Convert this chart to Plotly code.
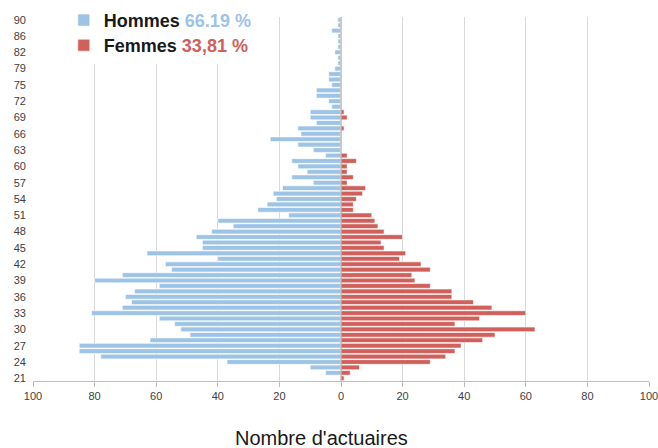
import plotly.graph_objects as go

# Age categories (bottom to top); a few high ages are absent in the source
ages = [str(a) for a in range(21, 70)] + ["70", "71", "72", "73", "74", "75", "76", "78", "79",
                                          "80", "81", "82", "83", "85", "86", "87", "89", "90"]

hommes = [0, 5, 10, 37, 78, 85, 85, 62, 49, 52,
          54, 59, 81, 71, 68, 70, 67, 59, 80, 71,
          55, 57, 40, 63, 45, 45, 47, 42, 35, 40,
          17, 27, 24, 21, 22, 19, 9, 16, 11, 14,
          16, 5, 9, 14, 23, 13, 14, 8, 10,
          10, 3, 4, 8, 8, 3, 4, 4, 2, 1, 1, 2, 1, 1, 1, 3, 1, 1]

femmes = [1, 3, 6, 29, 34, 37, 39, 46, 50, 63,
          37, 45, 60, 49, 43, 36, 36, 29, 24, 23,
          29, 26, 19, 21, 14, 13, 20, 14, 12, 11,
          10, 4, 4, 5, 7, 8, 2, 4, 2, 2,
          5, 2, 0, 0, 0, 0, 1, 0, 2,
          1, 0, 0, 0, 0, 0, 0, 0, 0, 0, 0, 0, 0, 0, 0, 0, 0, 0]

x_ticks = [-100, -80, -60, -40, -20, 0, 20, 40, 60, 80, 100]
x_tick_text = [str(abs(v)) for v in x_ticks]
y_ticks = ages[::3]

BLUE = "#9DC3E6"
RED = "#D0605B"
FONT = "Liberation Sans, Arial, sans-serif"

fig = go.Figure()
fig.add_trace(go.Bar(
    y=ages, x=[-v for v in hommes], orientation="h",
    name="<b>Hommes</b> <b style='color:%s'>66,19 %%</b>" % BLUE,
    marker=dict(color=BLUE, line=dict(color="white", width=0.6)),
    legend="legend",
))
fig.add_trace(go.Bar(
    y=ages, x=femmes, orientation="h",
    name="<b>Femmes</b> <b style='color:%s'>33,81 %%</b>" % RED,
    marker=dict(color=RED, line=dict(color="white", width=0.6)),
    legend="legend2",
))

fig.update_layout(
    width=658, height=448,
    margin=dict(l=33, r=9, t=17, b=67, autoexpand=False),
    paper_bgcolor="white", plot_bgcolor="white",
    barmode="relative", bargap=0.14,
    font=dict(family=FONT, color="#404040"),
    showlegend=True,
    legend=dict(x=0.05, y=1.0415, xanchor="left", yanchor="top",
                bgcolor="white", borderwidth=0,
                font=dict(family=FONT, size=18, color="#1a1a1a")),
    legend2=dict(x=0.05, y=0.9725, xanchor="left", yanchor="top",
                 bgcolor="white", borderwidth=0,
                 font=dict(family=FONT, size=18, color="#1a1a1a")),
    xaxis=dict(
        range=[-100, 100], tickmode="array", tickvals=x_ticks, ticktext=x_tick_text,
        showgrid=True, gridcolor="#D9D9D9", gridwidth=1,
        zeroline=False, showline=True, linecolor="#BFBFBF", linewidth=1,
        ticks="outside", ticklen=5, tickcolor="#BFBFBF",
        ticklabeloverflow="allow", automargin=False,
        tickfont=dict(family=FONT, size=11, color="#404040"),
        fixedrange=True,
    ),
    yaxis=dict(
        type="category", categoryorder="array", categoryarray=ages,
        tickmode="array", tickvals=y_ticks, ticktext=y_ticks,
        showgrid=False, zeroline=False, showline=False, ticks="",
        ticklabelstandoff=6, automargin=False,
        tickfont=dict(family=FONT, size=11, color="#404040"),
        fixedrange=True,
    ),
    shapes=[dict(type="line", xref="x", yref="paper", x0=0, x1=0, y0=0, y1=1,
                 line=dict(color="#A6A6A6", width=1), layer="above")],
    annotations=[dict(text="Nombre d'actuaires", xref="paper", yref="paper",
                      x=(321 - 33) / 616, y=(381 - 438) / 364, xanchor="center", yanchor="middle",
                      showarrow=False,
                      font=dict(family=FONT, size=20, color="#1a1a1a"))],
)

fig.write_html("out.html", config={"displayModeBar": False},
               post_script="document.body.style.margin='0';")
